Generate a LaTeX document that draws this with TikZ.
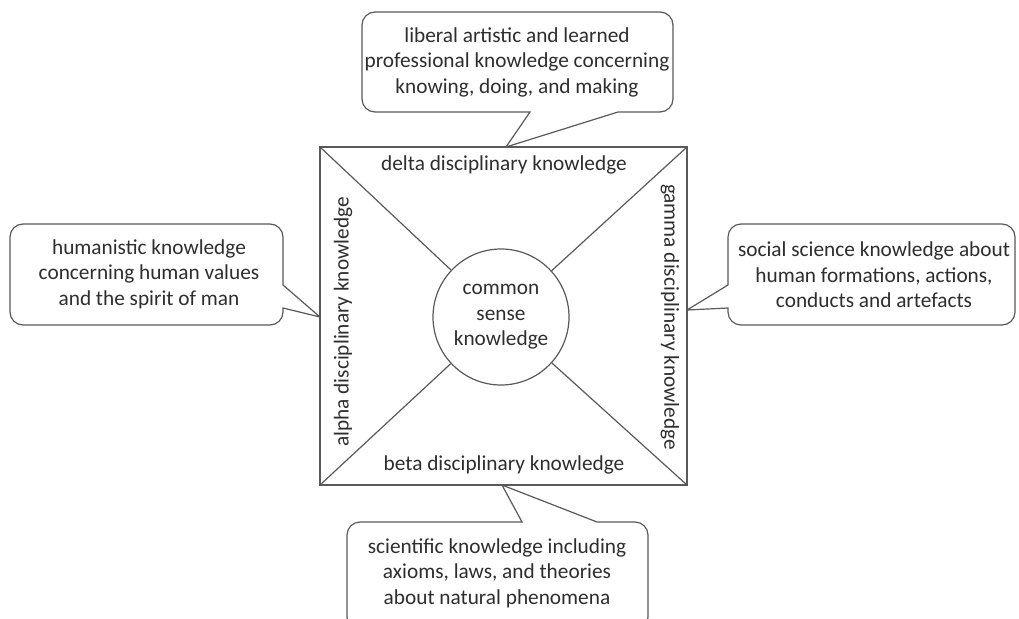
\documentclass[tikz,border=0pt]{standalone}
\usepackage{fontspec}
\setmainfont{Carlito}
\begin{document}
\begin{tikzpicture}[x=1pt,y=-1pt,
  line/.style={draw=black!65,line width=1.2pt},
  txt/.style={text=black!82,font=\fontsize{21.3}{25.5}\selectfont,align=center,inner sep=0pt},
  callout/.style={line,fill=white}]
\useasboundingbox (0,0) rectangle (1019,618);
% square corners
\coordinate (tl) at (320,147);
\coordinate (tr) at (687,147);
\coordinate (br) at (687,485);
\coordinate (bl) at (320,485);
\draw[line] (tl) -- (tr) -- (br) -- (bl) -- cycle;
\node[line,circle,minimum size=136pt,inner sep=0pt] (c) at (501,317) {};
\node[txt] (ct) at (501,317) {common\\sense\\knowledge};
\draw[line] (tl) -- (c);
\draw[line] (tr) -- (c);
\draw[line] (br) -- (c);
\draw[line] (bl) -- (c);
\node[txt] (delta) at (504,165) {delta disciplinary knowledge};
\node[txt] (beta) at (504,465) {beta disciplinary knowledge};
\node[txt,rotate=90] (alpha) at (343,322) {alpha disciplinary knowledge};
\node[txt,rotate=-90] (gamma) at (670,317) {gamma disciplinary knowledge};
% pointer tips
\coordinate (ttip) at (506,147);
\coordinate (ltip) at (320,317);
\coordinate (rtip) at (687,310);
\coordinate (btip) at (502,485);
% top callout
\draw[callout] (ttip) -- (618,112) [rounded corners=13pt] -- (673,112) -- (673,12) -- (362,12) -- (362,112) [sharp corners] -- (530,112) -- (ttip);
\node[txt] (top) at (517,62) {liberal artistic and learned\\professional knowledge concerning\\knowing, doing, and making};
% left callout
\draw[callout] (ltip) -- (283,308) [rounded corners=13pt] -- (283,325) -- (10,325) -- (10,224) -- (283,224) [sharp corners] -- (283,285) -- (ltip);
\node[txt] (left) at (149,274) {humanistic knowledge\\concerning human values\\and the spirit of man};
% right callout
\draw[callout] (rtip) -- (728,285) [rounded corners=13pt] -- (728,224) -- (1015,224) -- (1015,325) -- (728,325) [sharp corners] -- (728,308) -- (rtip);
\node[txt] (right) at (874,275) {social science knowledge about\\human formations, actions,\\conducts and artefacts};
% bottom callout
\draw[callout] (btip) -- (522,522) [rounded corners=13pt] -- (347,522) -- (347,630) -- (648,630) -- (648,522) [sharp corners] -- (597,522) -- (btip);
\node[txt] (bottom) at (497,573) {scientific knowledge including\\axioms, laws, and theories\\about natural phenomena};
\end{tikzpicture}
\end{document}
